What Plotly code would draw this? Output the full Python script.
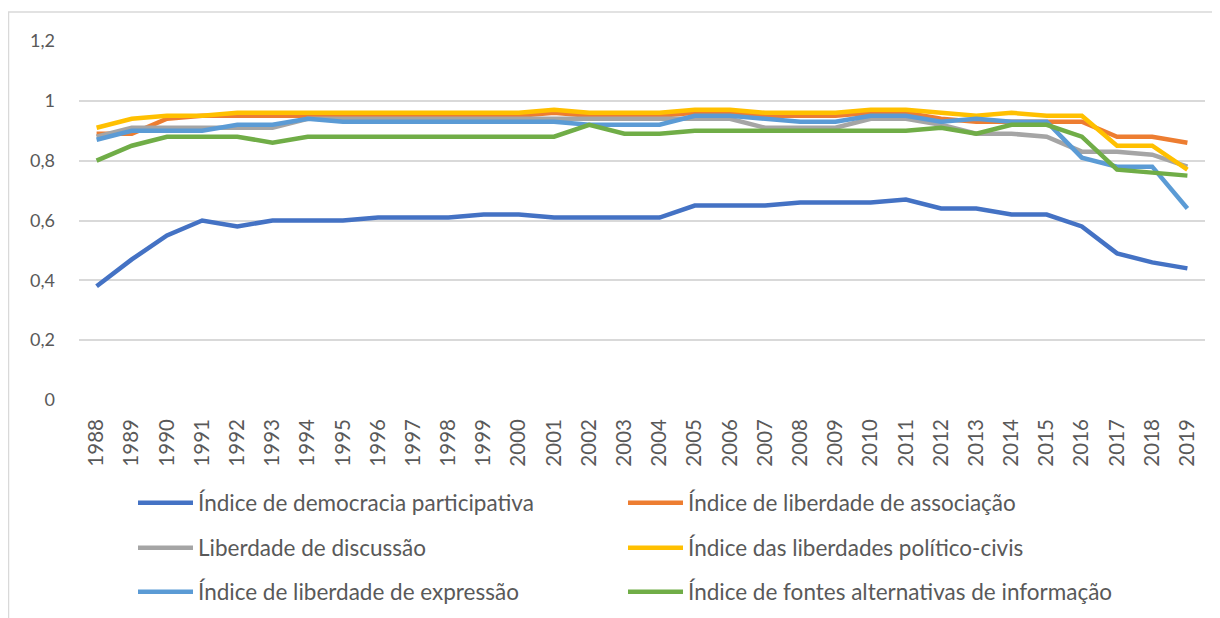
import plotly.graph_objects as go

years = [str(y) for y in range(1988, 2020)]

participativa = [0.38, 0.47, 0.55, 0.60, 0.58, 0.60, 0.60, 0.60, 0.61, 0.61, 0.61, 0.62, 0.62, 0.61, 0.61, 0.61,
                 0.61, 0.65, 0.65, 0.65, 0.66, 0.66, 0.66, 0.67, 0.64, 0.64, 0.62, 0.62, 0.58, 0.49, 0.46, 0.44]
associacao = [0.89, 0.89, 0.94, 0.95, 0.95, 0.95, 0.95, 0.95, 0.95, 0.95, 0.95, 0.95, 0.95, 0.96, 0.95, 0.95,
              0.95, 0.96, 0.96, 0.95, 0.95, 0.95, 0.96, 0.96, 0.94, 0.93, 0.93, 0.93, 0.93, 0.88, 0.88, 0.86]
discussao = [0.88, 0.91, 0.91, 0.91, 0.91, 0.91, 0.94, 0.94, 0.94, 0.94, 0.94, 0.94, 0.94, 0.94, 0.94, 0.94,
             0.94, 0.94, 0.94, 0.91, 0.91, 0.91, 0.94, 0.94, 0.92, 0.89, 0.89, 0.88, 0.83, 0.83, 0.82, 0.78]
politico_civis = [0.91, 0.94, 0.95, 0.95, 0.96, 0.96, 0.96, 0.96, 0.96, 0.96, 0.96, 0.96, 0.96, 0.97, 0.96, 0.96,
                  0.96, 0.97, 0.97, 0.96, 0.96, 0.96, 0.97, 0.97, 0.96, 0.95, 0.96, 0.95, 0.95, 0.85, 0.85, 0.77]
expressao = [0.87, 0.90, 0.90, 0.90, 0.92, 0.92, 0.94, 0.93, 0.93, 0.93, 0.93, 0.93, 0.93, 0.93, 0.92, 0.92,
             0.92, 0.95, 0.95, 0.94, 0.93, 0.93, 0.95, 0.95, 0.93, 0.94, 0.93, 0.93, 0.81, 0.78, 0.78, 0.64]
fontes = [0.80, 0.85, 0.88, 0.88, 0.88, 0.86, 0.88, 0.88, 0.88, 0.88, 0.88, 0.88, 0.88, 0.88, 0.92, 0.89,
          0.89, 0.90, 0.90, 0.90, 0.90, 0.90, 0.90, 0.90, 0.91, 0.89, 0.92, 0.92, 0.88, 0.77, 0.76, 0.75]

y_tickvals = [0, 0.2, 0.4, 0.6, 0.8, 1.0, 1.2]
y_ticktext = ["0", "0,2", "0,4", "0,6", "0,8", "1", "1,2"]

series = [
    ("Índice de democracia participativa", participativa, "#4472C4"),
    ("Índice de liberdade de associação", associacao, "#ED7D31"),
    ("Liberdade de discussão", discussao, "#A5A5A5"),
    ("Índice das liberdades político-civis", politico_civis, "#FFC000"),
    ("Índice de liberdade de expressão", expressao, "#5B9BD5"),
    ("Índice de fontes alternativas de informação", fontes, "#70AD47"),
]

FONT = "Lato"
TXT = "#595959"

# page body adds an 8px offset; figure is sized to fill the rest of the window
OFF = 8
W, H = 1220 - OFF, 618 - OFF
L, R, T, B = 79 - OFF, 15, 41 - OFF, 218
pw = W - L - R
ph = H - T - B

def px_x(p):  # p in window pixels
    return (p - OFF - L) / pw

def px_y(p):
    return (H - B - (p - OFF)) / ph

# legend slots (left px of entry, row centre px) in window pixels
slots = [(133, 503), (623, 503), (133, 548), (623, 548), (133, 592), (623, 592)]

fig = go.Figure()
legends = {}
for i, (name, vals, color) in enumerate(series):
    lid = "legend" if i == 0 else f"legend{i + 1}"
    fig.add_trace(go.Scatter(x=years, y=vals, name=name, mode="lines",
                             line=dict(color=color, width=4.5), legend=lid))
    sx, sy = slots[i]
    legends[lid] = dict(orientation="h", itemwidth=55,
                        font=dict(family=FONT, size=22.5, color=TXT),
                        bgcolor="rgba(0,0,0,0)", borderwidth=0,
                        xanchor="left", yanchor="middle",
                        x=px_x(sx), y=px_y(sy), itemclick=False)

fig.update_layout(
    width=W, height=H,
    margin=dict(l=L, r=R, t=T, b=B, autoexpand=False),
    paper_bgcolor="white", plot_bgcolor="white",
    font=dict(family=FONT, color=TXT, size=18),
    showlegend=True,
    xaxis=dict(type="category", range=[-0.5, len(years) - 0.5], tickangle=-90,
               showgrid=False, showline=False, ticks="", zeroline=False,
               ticklabelstandoff=14,
               tickfont=dict(family=FONT, size=20.5, color=TXT)),
    yaxis=dict(range=[0, 1.2], tickvals=y_tickvals, ticktext=y_ticktext,
               showgrid=True, gridcolor="#D9D9D9", gridwidth=1.5, zeroline=False,
               showline=False, ticks="", ticklabelstandoff=23,
               tickfont=dict(family=FONT, size=18, color=TXT)),
    shapes=[dict(type="rect", xref="paper", yref="paper",
                 x0=px_x(8.5), x1=px_x(1240), y0=px_y(12), y1=px_y(640),
                 line=dict(color="#D9D9D9", width=1.5), fillcolor="rgba(0,0,0,0)",
                 layer="below")],
)
fig.update_layout(**legends)

fig.write_html("out.html")
